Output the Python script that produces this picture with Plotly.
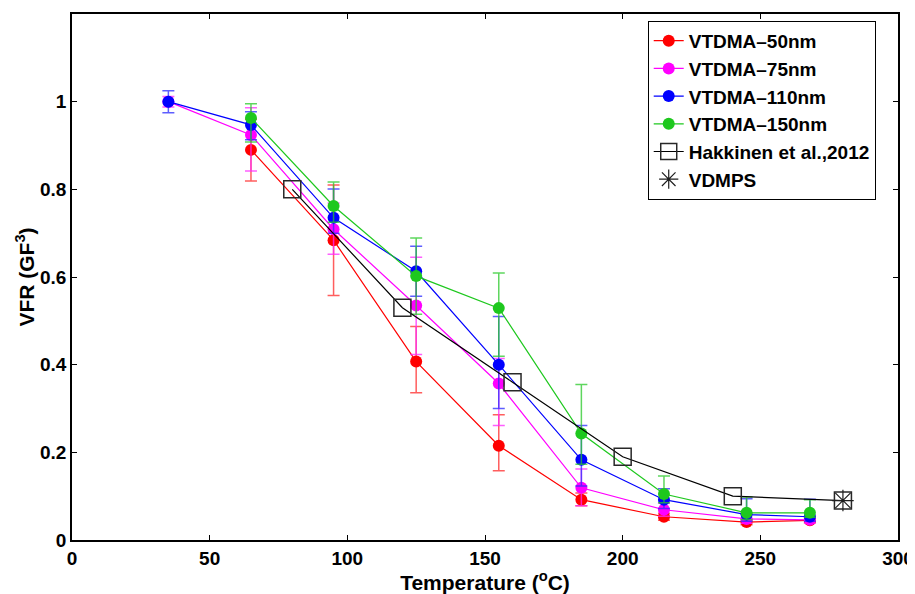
import plotly.graph_objects as go

# ---- data ----
temps_all = [35, 65, 95, 125, 155, 185, 215, 245, 268]
temps_65 = [65, 95, 125, 155, 185, 215, 245, 268]

vfr_50 = [0.89, 0.684, 0.407, 0.215, 0.092, 0.053, 0.041, 0.045]
err50_plus = [0.07, 0.126, 0.08, 0.071, 0.015, 0.008, 0.006, 0.005]
err50_minus = [0.071, 0.126, 0.071, 0.057, 0.014, 0.008, 0.006, 0.005]

vfr_75 = [1.0, 0.924, 0.709, 0.535, 0.357, 0.119, 0.069, 0.048, 0.046]
err75_plus = [0.012, 0.062, 0.06, 0.11, 0.057, 0.043, 0.015, 0.01, 0.008]
err75_minus = [0.012, 0.082, 0.057, 0.112, 0.096, 0.041, 0.015, 0.01, 0.008]

vfr_110 = [1.0, 0.947, 0.735, 0.613, 0.400, 0.183, 0.092, 0.058, 0.053]
err110_plus = [0.025, 0.03, 0.066, 0.057, 0.11, 0.078, 0.025, 0.036, 0.04]
err110_minus = [0.025, 0.034, 0.035, 0.057, 0.10, 0.06, 0.02, 0.015, 0.01]

vfr_150 = [0.963, 0.762, 0.602, 0.529, 0.243, 0.105, 0.062, 0.062]
err150_plus = [0.032, 0.055, 0.087, 0.08, 0.112, 0.041, 0.036, 0.03]
err150_minus = [0.055, 0.037, 0.087, 0.11, 0.07, 0.02, 0.015, 0.01]

hak_t = [80, 120, 160, 200, 240, 280]
hak_v = [0.80, 0.53, 0.36, 0.19, 0.10, 0.09]

vdmps_t = [280]
vdmps_v = [0.09]

x_ticks = [0, 50, 100, 150, 200, 250, 300]
y_ticks = [0, 0.2, 0.4, 0.6, 0.8, 1]
y_tick_labels = ["0", "0.2", "0.4", "0.6", "0.8", "1"]

FONT = "Liberation Sans, Arial, Helvetica, sans-serif"

fig = go.Figure()

def add_series(name, x, y, ep, em, color, errcolor):
    fig.add_trace(go.Scatter(
        x=x, y=y, name=name, mode="lines+markers",
        line=dict(color=color, width=1.2),
        marker=dict(color=color, size=12, symbol="circle"),
        error_y=dict(type="data", symmetric=False, array=ep, arrayminus=em,
                     color=errcolor, thickness=1.5, width=6),
    ))

add_series("VTDMA\u201350nm", temps_65, vfr_50, err50_plus, err50_minus,
           "rgb(255,0,0)", "rgba(255,40,40,0.75)")
add_series("VTDMA\u201375nm", temps_all, vfr_75, err75_plus, err75_minus,
           "rgb(255,0,255)", "rgba(255,40,255,0.75)")
add_series("VTDMA\u2013110nm", temps_all, vfr_110, err110_plus, err110_minus,
           "rgb(0,0,255)", "rgba(40,40,255,0.75)")
add_series("VTDMA\u2013150nm", temps_65, vfr_150, err150_plus, err150_minus,
           "rgb(30,200,30)", "rgba(40,200,40,0.75)")

fig.add_trace(go.Scatter(
    x=hak_t, y=hak_v, name="Hakkinen et al.,2012", mode="lines+markers",
    line=dict(color="black", width=1.2),
    marker=dict(symbol="square-open", size=17, color="rgb(40,40,40)",
                line=dict(width=1.5, color="rgb(40,40,40)")),
))
fig.add_trace(go.Scatter(
    x=vdmps_t, y=vdmps_v, name="VDMPS", mode="markers",
    marker=dict(symbol="asterisk-open", size=18, color="rgb(30,30,30)",
                line=dict(width=1.2, color="rgb(30,30,30)")),
))

axis_common = dict(
    showline=True, linecolor="black", linewidth=1.5, mirror="ticks",
    ticks="inside", ticklen=5, tickwidth=1, tickcolor="black",
    showgrid=False, zeroline=False, automargin=False,
    tickfont=dict(family=FONT, size=19, color="black", weight="bold"),
)

fig.update_xaxes(
    range=[0, 300], tickvals=x_ticks, ticktext=[str(v) for v in x_ticks],
    title=dict(text="Temperature (<sup>o</sup>C)", standoff=4,
               font=dict(family=FONT, size=21, color="black", weight="bold")),
    **axis_common,
)
fig.update_yaxes(
    range=[0, 1.2], tickvals=y_ticks, ticktext=y_tick_labels,
    title=dict(text="VFR (GF<sup>3</sup>)", standoff=0,
               font=dict(family=FONT, size=21, color="black", weight="bold")),
    **axis_common,
)

# the page body adds an 8px offset, so the figure is sized to fit the window
fig.update_layout(
    width=907, height=586,
    margin=dict(l=64, r=17, t=6, b=54),
    plot_bgcolor="white", paper_bgcolor="white",
    font=dict(family=FONT, color="black"),
    legend=dict(
        x=0.697, y=0.987, xanchor="left", yanchor="top",
        bgcolor="white", bordercolor="black", borderwidth=1,
        font=dict(family=FONT, size=19, color="black", weight="bold"),
        itemwidth=30, tracegroupgap=0,
    ),
    showlegend=True,
)

fig.write_html("out.html")
